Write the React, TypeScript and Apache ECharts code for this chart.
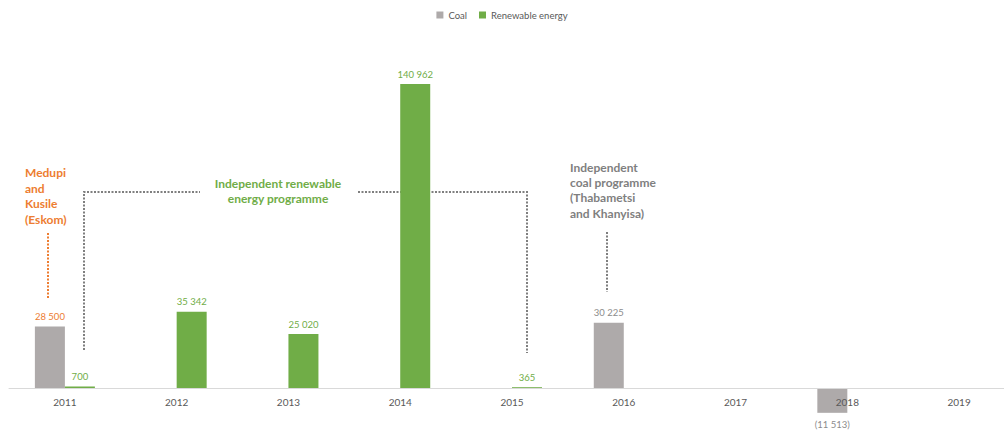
import React, { useEffect, useRef } from "react";
import * as echarts from "echarts";

const categories = ["2011", "2012", "2013", "2014", "2015", "2016", "2017", "2018", "2019"];
const coal = [28500, null, null, null, null, 30225, null, -11513, null];
const renewable = [700, 35342, 25020, 140962, 365, null, null, null, null];
const coalLabelColors = ["#ED7D31", null, null, null, null, "#8C8C8C", null, "#8C8C8C", null];

const GRAY_BAR = "#AEAAAA";
const GREEN = "#70AD47";
const ORANGE = "#ED7D31";
const DOT_GRAY = "#7F7F7F";
const FONT = "Lato";

const fmt = (v: number) => {
  const s = Math.abs(v).toString().replace(/\B(?=(\d{3})+(?!\d))/g, " ");
  return v < 0 ? `(${s})` : s;
};

export default function App() {
  const ref = useRef<HTMLDivElement>(null);
  useEffect(() => {
    if (!ref.current) return;
    const chart = echarts.init(ref.current, null, { renderer: "svg" });
    const dotted = { stroke: DOT_GRAY, lineWidth: 2, lineDash: [2, 1.5], fill: "none" };
    const labelFmt = (p: any) => (p.value === null || p.value === undefined ? "" : fmt(p.value));
    chart.setOption({
      animation: false,
      textStyle: { fontFamily: FONT },
      legend: {
        top: 5,
        left: "center",
        itemWidth: 7,
        itemHeight: 7,
        itemGap: 12,
        icon: "rect",
        textStyle: { fontFamily: FONT, fontSize: 9.5, color: "#595959" },
        data: ["Coal", "Renewable energy"],
      },
      grid: { left: 9, width: 1006, top: 43, bottom: 42, containLabel: false, outerBoundsMode: "none" },
      xAxis: {
        type: "category",
        data: categories,
        z: 5,
        axisLine: { lineStyle: { color: "#D9D9D9", width: 1 } },
        axisTick: { show: false },
        axisLabel: { color: "#595959", fontSize: 10, margin: 9, fontFamily: FONT },
      },
      yAxis: {
        type: "value",
        min: 0,
        max: 160000,
        show: false,
        splitLine: { show: false },
      },
      graphic: [
        {
          type: "polyline",
          shape: { points: [[84, 350], [84, 192], [200, 192]] },
          style: dotted,
          silent: true,
        },
        {
          type: "polyline",
          shape: { points: [[358, 192], [527, 192], [527, 353]] },
          style: dotted,
          silent: true,
        },
        {
          type: "line",
          shape: { x1: 48, y1: 233, x2: 48, y2: 298 },
          style: { stroke: ORANGE, lineWidth: 2, lineDash: [2, 1.5] },
          silent: true,
        },
        {
          type: "line",
          shape: { x1: 607, y1: 232, x2: 607, y2: 292 },
          style: { stroke: DOT_GRAY, lineWidth: 2, lineDash: [2, 1.5] },
          silent: true,
        },
        {
          type: "text",
          x: 25,
          y: 165,
          style: {
            text: "Medupi\nand\nKusile\n(Eskom)",
            fill: ORANGE,
            font: `bold 12px ${FONT}`,
            lineHeight: 15.5,
            align: "left",
            verticalAlign: "top",
          },
        },
        {
          type: "text",
          x: 278,
          y: 175.5,
          style: {
            text: "Independent renewable\nenergy programme",
            fill: GREEN,
            font: `bold 12px ${FONT}`,
            lineHeight: 15,
            align: "center",
            verticalAlign: "top",
          },
        },
        {
          type: "text",
          x: 570,
          y: 159.5,
          style: {
            text: "Independent\ncoal programme\n(Thabametsi\nand Khanyisa)",
            fill: "#7F7F7F",
            font: `bold 12px ${FONT}`,
            lineHeight: 15.3,
            align: "left",
            verticalAlign: "top",
          },
        },
      ],
      series: [
        {
          name: "Coal",
          type: "bar",
          barWidth: 30,
          barGap: "0%",
          clip: false,
          itemStyle: { color: GRAY_BAR },
          data: coal.map((v, i) => ({
            value: v,
            label: {
              color: coalLabelColors[i] || "#8C8C8C",
              position: v !== null && v < 0 ? "bottom" : "top",
              distance: v !== null && v < 0 ? 7 : 5,
            },
          })),
          label: {
            show: true,
            fontSize: 9.5,
            fontFamily: FONT,
            distance: 5,
            formatter: labelFmt,
          },
        },
        {
          name: "Renewable energy",
          type: "bar",
          barWidth: 30,
          barGap: "0%",
          clip: false,
          itemStyle: { color: GREEN },
          data: renewable,
          label: {
            show: true,
            position: "top",
            color: GREEN,
            fontSize: 9.5,
            fontFamily: FONT,
            distance: 5,
            formatter: labelFmt,
          },
        },
      ],
    });
    return () => chart.dispose();
  }, []);
  return (
    <div
      ref={ref}
      style={{ position: "absolute", left: 0, top: 0, width: 1004, height: 430, background: "#fff" }}
    />
  );
}
